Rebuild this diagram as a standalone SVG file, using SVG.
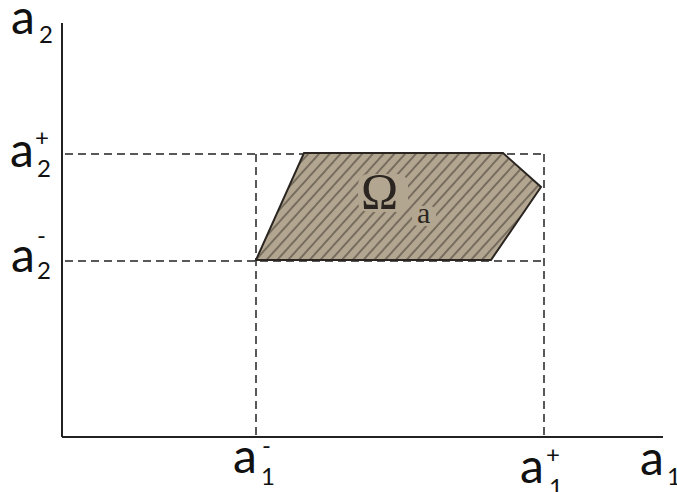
<svg xmlns="http://www.w3.org/2000/svg" width="677" height="492" viewBox="0 0 677 492">
<style>
.axis{stroke:#222;stroke-width:2;fill:none}
.dash{stroke:#222;stroke-width:1.5;stroke-dasharray:8,5;fill:none}
.lbl{font-family:Lato,"Liberation Sans",sans-serif;fill:#111}
.big{font-size:48px}
.small{font-size:24px}
.ser{font-family:"Liberation Serif","DejaVu Serif",serif;fill:#2a2520}
</style>
<defs>
<pattern id="hatch" width="8" height="10" patternUnits="userSpaceOnUse" patternTransform="rotate(42)">
<line x1="4" y1="0" x2="4" y2="10" stroke="#3a342c" stroke-width="1"/>
</pattern>
<clipPath id="clipP"><polygon points="256,260 304,153 503,153 541,187 491,260"/></clipPath>
</defs>
<rect width="677" height="492" fill="#fff"/>
<g id="guides">
<line class="dash" x1="65" y1="154" x2="544" y2="154"/>
<line class="dash" x1="65" y1="261" x2="544" y2="261"/>
<line class="dash" x1="256" y1="154" x2="256" y2="437"/>
<line class="dash" x1="544" y1="154" x2="544" y2="437"/>
</g>
<g id="region">
<polygon points="256,260 304,153 503,153 541,187 491,260" fill="#b3a691"/>
<rect x="0" y="0" width="677" height="492" fill="url(#hatch)" clip-path="url(#clipP)"/>
<rect x="358" y="174" width="50" height="38" rx="10" fill="#b3a691"/>
<rect x="412" y="206" width="24" height="20" rx="6" fill="#b3a691"/>
<polygon points="256,260 304,153 503,153 541,187 491,260" fill="none" stroke="#2a2520" stroke-width="2"/>
<text class="ser" x="361" y="208" font-size="50">Ω</text>
<text class="ser" x="417" y="223" font-size="30">a</text>
</g>
<g id="axes">
<line class="axis" x1="62" y1="23" x2="62" y2="437"/>
<line class="axis" x1="62" y1="437" x2="663" y2="437"/>
</g>
<g id="labels" class="lbl">
<text class="big" x="11" y="34">a</text><text class="small" x="39" y="43">2</text>
<text class="big" x="10" y="167">a</text><text class="small" x="35" y="146">+</text><text class="small" x="37" y="177">2</text>
<text class="big" x="11" y="272">a</text><text class="small" x="37" y="244">-</text><text class="small" x="37" y="279">2</text>
<text class="big" x="233" y="473">a</text><text class="small" x="262" y="454">-</text><text class="small" x="261" y="485">1</text>
<text class="big" x="520" y="483">a</text><text class="small" x="546" y="463">+</text><text class="small" x="549" y="496">1</text>
<text class="big" x="640" y="475">a</text><text class="small" x="667" y="485">1</text>
</g>
</svg>
